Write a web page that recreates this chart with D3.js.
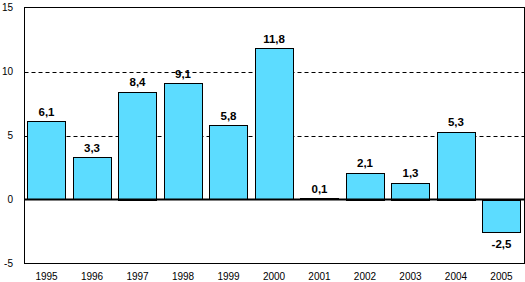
<!DOCTYPE html>
<html><head><meta charset="utf-8">
<script src="https://cdn.jsdelivr.net/npm/d3@7"></script>
<style>body{margin:0;background:#fff}svg{display:block}text{font-family:Arial,"Liberation Sans",sans-serif}</style>
</head><body>
<svg id="c" width="525" height="282"></svg>
<script>
const years = ["1995","1996","1997","1998","1999","2000","2001","2002","2003","2004","2005"];
const values = [6.1,3.3,8.4,9.1,5.8,11.8,0.1,2.1,1.3,5.3,-2.5];
const yTicks = [-5,0,5,10,15];
const gridTicks = [5,10];

const svg = d3.select("#c");
const L=24.5, R=524.5, T=7.5, B=263.5;
const x = d3.scaleBand().domain(years).range([24,524]).paddingInner(0.156).paddingOuter(0.073);
const y = d3.scaleLinear().domain([-5,15]).range([B,T]);

svg.append("g").selectAll("line").data(gridTicks).join("line")
  .attr("x1",L).attr("x2",R).attr("y1",d=>Math.round(y(d))+0.5).attr("y2",d=>Math.round(y(d))+0.5)
  .attr("stroke","#000").attr("stroke-dasharray","4,3");

const fmt = v => String(v.toFixed(1)).replace(".",",");

svg.append("g").selectAll("rect").data(values).join("rect")
  .attr("x",(d,i)=>Math.round(x(years[i]))+0.5)
  .attr("width",Math.round(x.bandwidth()))
  .attr("y",d=>Math.round(y(Math.max(0,d)))+0.5)
  .attr("height",d=>Math.round(Math.abs(y(d)-y(0))))
  .attr("fill","#5CDCFF").attr("stroke","#000").attr("stroke-width",1);

svg.append("line").attr("x1",L).attr("x2",R).attr("y1",y(0)).attr("y2",y(0))
  .attr("stroke","#000").attr("stroke-width",2);

svg.append("rect").attr("x",L).attr("y",T).attr("width",R-L).attr("height",B-T)
  .attr("fill","none").attr("stroke","#000");

svg.append("g").selectAll("text").data(values).join("text")
  .attr("x",(d,i)=>x(years[i])+x.bandwidth()/2)
  .attr("y",d=>d>=0 ? y(d)-5.5 : y(d)+16)
  .attr("text-anchor","middle").attr("font-size",11.5).attr("font-weight","bold")
  .text(fmt);

const ax = d3.axisLeft(y).tickValues(yTicks).tickSize(0).tickPadding(0).tickFormat(d=>d);
const gy = svg.append("g").attr("transform",`translate(13,0)`).call(ax);
gy.select(".domain").remove();
gy.selectAll("text").attr("font-size",10).attr("font-family",'Arial,"Liberation Sans",sans-serif').attr("fill","#000");

const axb = d3.axisBottom(x).tickSize(0).tickPadding(0);
const gx = svg.append("g").attr("transform",`translate(0,272.5)`).call(axb);
gx.select(".domain").remove();
gx.selectAll("text").attr("font-size",10).attr("font-family",'Arial,"Liberation Sans",sans-serif').attr("fill","#000");
</script>
</body></html>
